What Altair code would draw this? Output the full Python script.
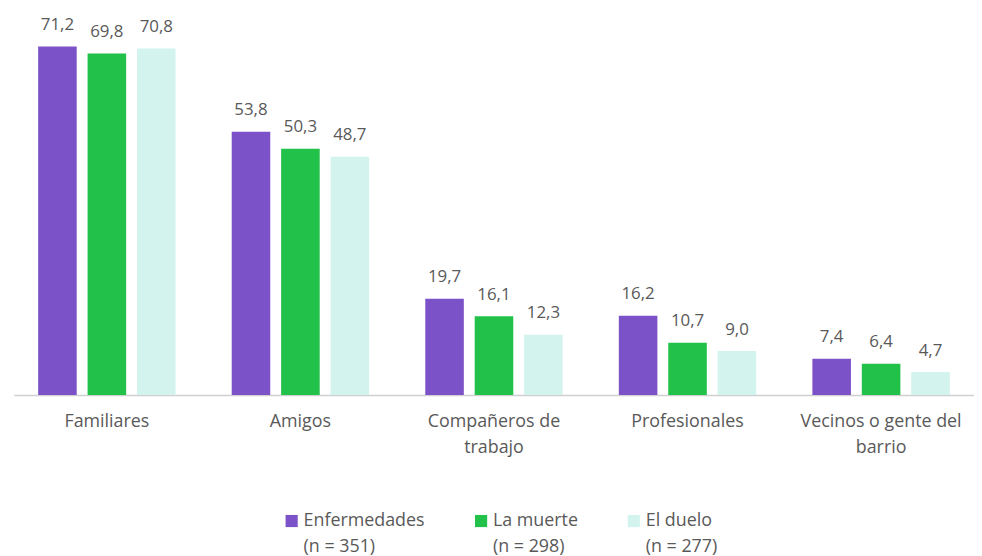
import altair as alt
import pandas as pd

categories = ["Familiares", "Amigos", "Compañeros de trabajo", "Profesionales", "Vecinos o gente del barrio"]
series = ["Enfermedades", "La muerte", "El duelo"]
series_n = ["(n = 351)", "(n = 298)", "(n = 277)"]
enfermedades = [71.2, 53.8, 19.7, 16.2, 7.4]
la_muerte = [69.8, 50.3, 16.1, 10.7, 6.4]
el_duelo = [70.8, 48.7, 12.3, 9.0, 4.7]
colors = ["#7B52C7", "#22C14A", "#D3F4EE"]

rows = []
for s, vals in zip(series, [enfermedades, la_muerte, el_duelo]):
    for c, v in zip(categories, vals):
        rows.append({"cat": c, "serie": s, "value": v, "label": f"{v:.1f}".replace(".", ",")})
df = pd.DataFrame(rows)

cat_label_expr = (
    "datum.label == 'Compañeros de trabajo' ? ['Compañeros de', 'trabajo'] : "
    "datum.label == 'Vecinos o gente del barrio' ? ['Vecinos o gente del', 'barrio'] : datum.label"
)
leg_expr = " : ".join(
    [f"datum.label == '{s}' ? ['{s}', '{n}']" for s, n in zip(series, series_n)]
) + " : datum.label"

font = "Open Sans"
txt_color = "#595959"

base = alt.Chart(df).encode(
    x=alt.X("cat:N", sort=categories, title=None,
            scale=alt.Scale(paddingInner=0.29, paddingOuter=0.125, round=False),
            axis=alt.Axis(labelAngle=0, labelExpr=cat_label_expr, labelFontSize=18,
                          labelColor=txt_color, labelFont=font, domainColor="#d0d0d0",
                          domainWidth=1.5, ticks=False, labelPadding=18, labelLineHeight=26)),
    xOffset=alt.XOffset("serie:N", sort=series, scale=alt.Scale(paddingInner=0.22, round=False)),
    y=alt.Y("value:Q", scale=alt.Scale(domain=[0, 78], nice=False), axis=None),
)

bars = base.mark_bar().encode(
    color=alt.Color("serie:N", sort=series,
                    scale=alt.Scale(domain=series, range=colors),
                    legend=alt.Legend(title=None, orient="none", direction="horizontal",
                                      legendX=271, legendY=503,
                                      labelExpr=leg_expr, labelFontSize=18, labelFont=font,
                                      labelColor=txt_color, symbolType="square", symbolSize=150,
                                      symbolStrokeWidth=0, columnPadding=47,
                                      labelOffset=3))
)
texts = base.mark_text(dy=-21.5, fontSize=17, font=font, color=txt_color).encode(text="label:N")

chart = (bars + texts).properties(
    width=968, height=385,
    padding={"left": 6, "top": 3, "right": 0, "bottom": 0},
).configure(style={"guide-label": {"lineHeight": 26}}).configure_view(stroke=None)

chart.save("out.html", embed_options={"renderer": "svg", "actions": False})
